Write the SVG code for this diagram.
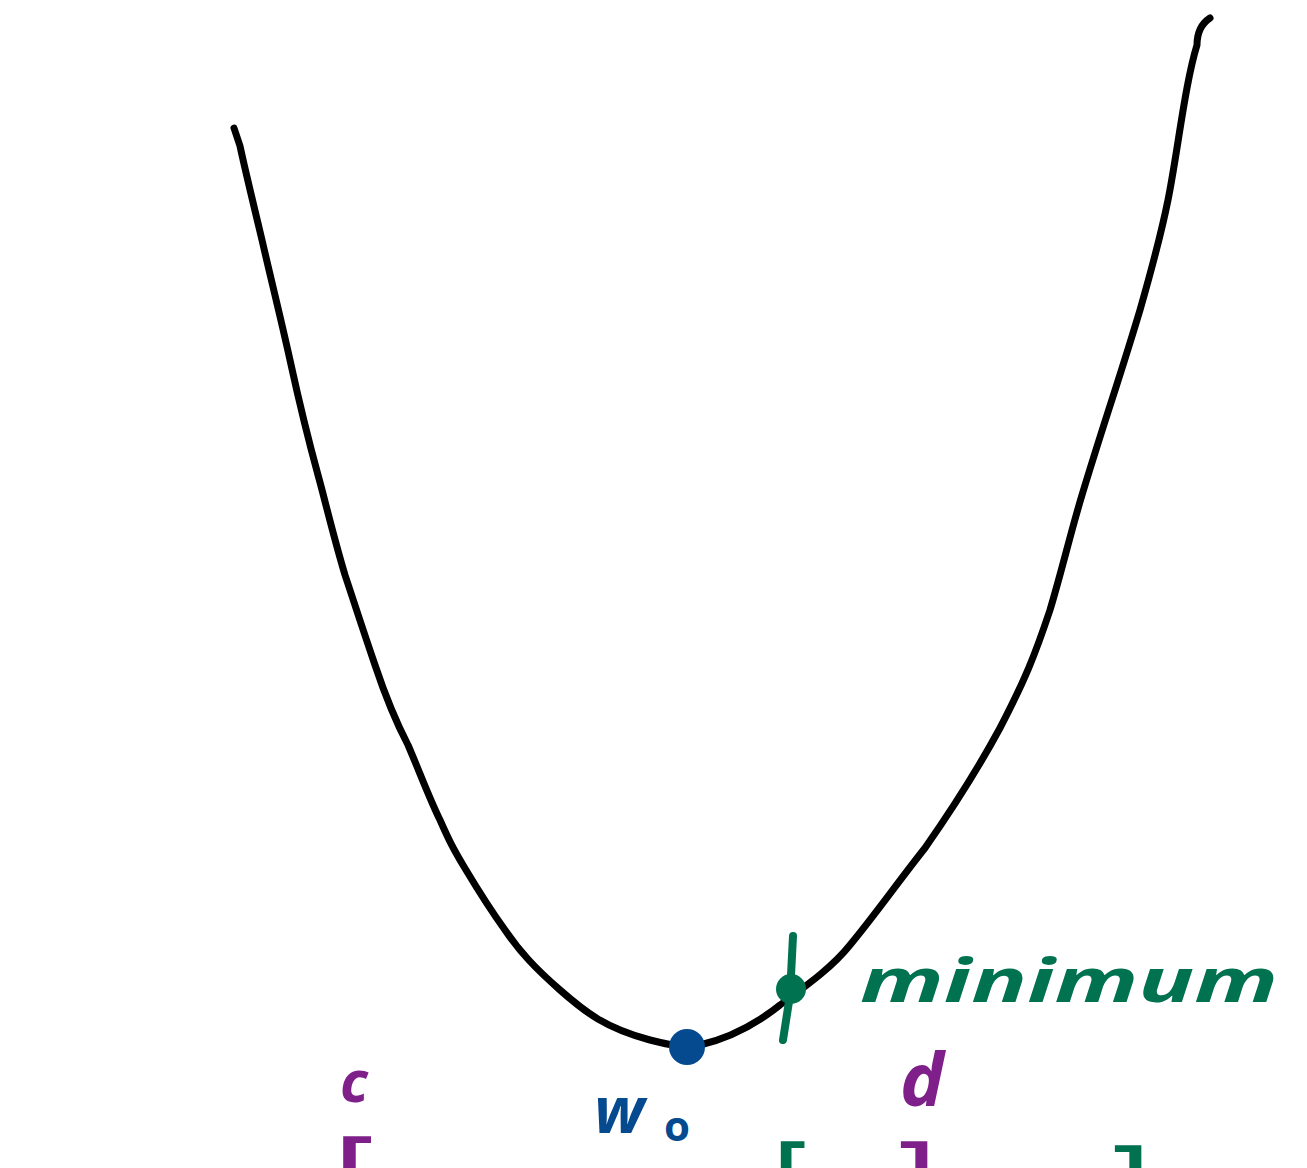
<svg xmlns="http://www.w3.org/2000/svg" width="1307" height="1168" viewBox="0 0 1307 1168">
<style>
.curve{fill:none;stroke:#000;stroke-width:7;stroke-linecap:round;stroke-linejoin:round}
.lbl{font-family:"Open Sans","Liberation Sans",sans-serif;font-weight:bold}
.br{font-family:"Open Sans","Liberation Sans",sans-serif;font-weight:600;font-size:80px}
.green{fill:#00724f}
.blue{fill:#05498f}
.purple{fill:#7f1f8a}
</style>
<rect width="1307" height="1168" fill="#fff"/>
<g id="connectors">
<path id="parabola" class="curve" d="M234,128 L240,146 C244,165 250,190 262,240 C270,275 280,315 290,360 C297,392 303,420 318,475 C325,500 333,535 345,575 C355,605 362,627 375,665 C385,695 395,720 408,745 C418,768 430,800 440,820 C448,838 452,847 466,870 C478,890 492,912 505,930 C520,952 535,968 560,990 C585,1012 605,1028 650,1040 C670,1045 682,1048 700,1045 C730,1038 755,1025 780,1005 C800,990 830,970 850,945 C875,915 898,882 925,848 C955,805 980,765 1000,728 C1025,680 1035,655 1050,610 C1062,570 1070,535 1082,495 C1092,462 1100,437 1108,412 C1120,375 1131,340 1140,310 C1150,275 1160,240 1168,200 C1175,165 1180,125 1187,88 C1190,72 1193,58 1197,45 C1197,32 1201,24 1210,18"/>
</g>
<g id="point-w0">
<circle cx="687" cy="1047" r="18" fill="#05498f"/>
<text class="lbl blue" x="594" y="1133" font-size="64" font-style="italic">w</text>
<text class="lbl blue" x="664" y="1141" font-size="42">o</text>
</g>
<g id="point-minimum">
<path d="M793,936 L790,995 L783,1040" fill="none" stroke="#00724f" stroke-width="8" stroke-linecap="round"/>
<circle cx="791" cy="989" r="15" fill="#00724f"/>
<text class="lbl green" x="860" y="1002" font-size="60" font-style="italic" textLength="418" lengthAdjust="spacingAndGlyphs">minimum</text>
</g>
<g id="label-c">
<text class="lbl purple" x="340" y="1102" font-size="58" font-style="italic">c</text>
</g>
<g id="label-d">
<text class="lbl purple" x="900" y="1106" font-size="74" font-style="italic">d</text>
</g>
<g id="brackets">
<text class="br purple" x="334" y="1193" textLength="40" lengthAdjust="spacingAndGlyphs">[</text>
<text class="br green" x="773" y="1198" textLength="34" lengthAdjust="spacingAndGlyphs">[</text>
<text class="br purple" x="898" y="1198" textLength="38" lengthAdjust="spacingAndGlyphs">]</text>
<text class="br green" x="1112" y="1202" textLength="38" lengthAdjust="spacingAndGlyphs">]</text>
</g>
</svg>
